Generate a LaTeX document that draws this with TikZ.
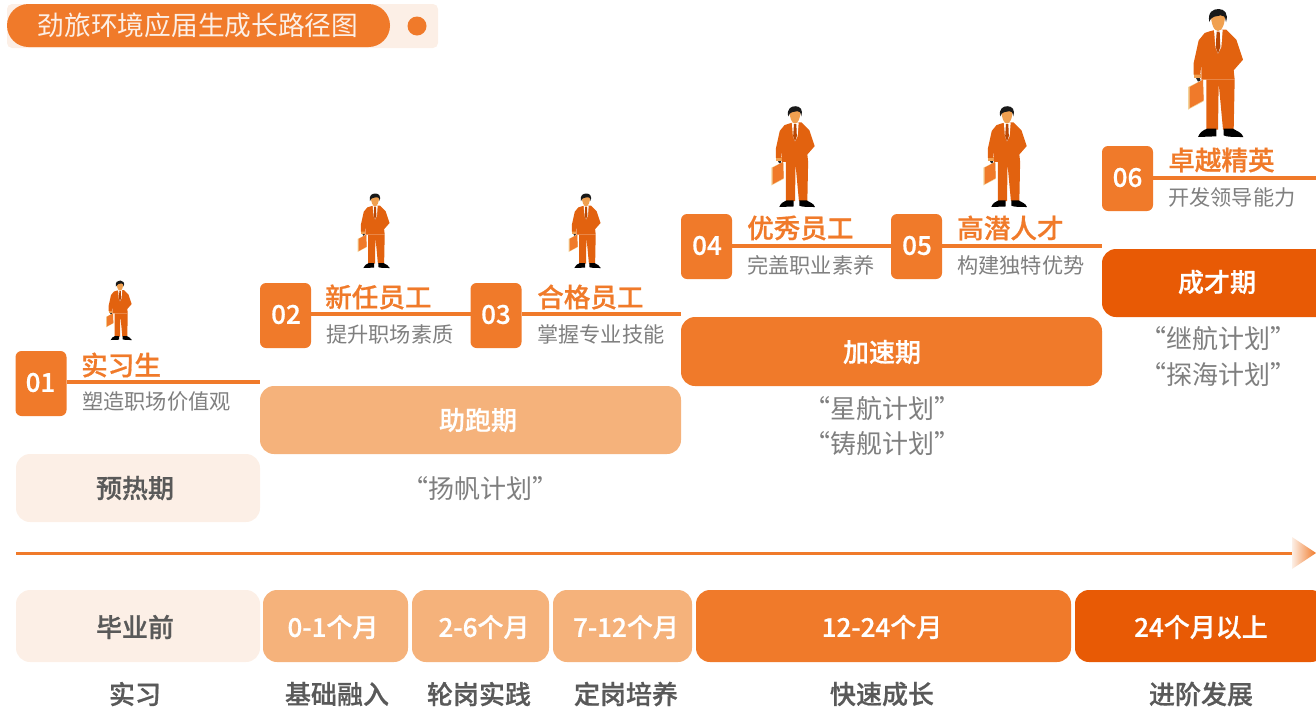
\documentclass[tikz,border=0pt]{standalone}
\usepackage{fontspec}
\setmainfont{Noto Sans CJK SC}
\newfontfamily\medf{Noto Sans CJK SC Medium}[FakeBold=0.7]
\usetikzlibrary{calc}
\definecolor{oMain}{HTML}{F07A2A}
\definecolor{oDeep}{HTML}{E85A05}
\definecolor{oSoft}{HTML}{F5B27B}
\definecolor{oPale}{HTML}{FCEFE6}
\definecolor{txtDark}{HTML}{595959}
\definecolor{txtGray}{HTML}{7F7F7F}
\definecolor{suit}{HTML}{E2620F}
\definecolor{skin}{HTML}{F0A050}
\definecolor{caseedge}{HTML}{F3D29A}
\tikzset{
  box/.style={rounded corners=#1,inner sep=0pt,outer sep=0pt},
  badge/.style={box=6pt,fill=oMain,minimum width=51pt,minimum height=65pt},
  badgetxt/.style={inner sep=0pt,text=white,font=\medf\fontsize{26}{26}\selectfont},
  phase/.style={box=14pt,minimum height=68pt},
  span/.style={box=14pt,minimum height=72pt},
  lbl/.style={inner sep=0pt,font=\medf\fontsize{26}{26}\selectfont},
  lblm/.style={inner sep=0pt,font=\medf\fontsize{26}{26}\selectfont},
  ttl/.style={anchor=west,inner sep=0pt,text=oMain,font=\medf\fontsize{26.6}{27}\selectfont},
  sub/.style={anchor=west,inner sep=0pt,text=txtGray,font=\fontsize{21.2}{22}\selectfont},
  quotetxt/.style={inner sep=0pt,text=txtGray,font=\fontsize{26}{27}\selectfont},
  captxt/.style={inner sep=0pt,text=txtDark,font=\medf\fontsize{26}{27}\selectfont},
  link/.style={draw=oMain,line width=4pt}
}
\newcommand{\figman}[3]{%
\begin{scope}[shift={(#1,#2)},x=#3pt,y=#3pt]
 % local coordinates: origin between the feet, y upward
 \fill[black!85] (-72,188) -- (-60,188) -- (-52,170) -- (-60,166) -- cycle;
 \fill[caseedge] (-90,150) -- (-45,172) -- (-43,107) -- (-90,82) -- cycle;
 \fill[oMain] (-85,150) -- (-45,172) -- (-43,110) -- (-85,87) -- cycle;
 \fill[skin] (-73,190) -- (-50,190) -- (-50,177) -- (-73,177) -- cycle;
 \fill[suit] (-35,172) -- (-35,22) -- (0,22) -- (2,162) -- (15,22) -- (47,22) -- (50,172) -- cycle;
 \fill[suit] (-22,318) -- (-5,322) -- (25,322) -- (35,312) -- (55,292) -- (75,232) -- (47,200) -- (50,172) -- (-50,172) -- (-50,222) -- (-53,187) -- (-73,187) -- (-73,222) -- (-58,290) -- (-40,312) -- cycle;
 \fill[white] (-12,322) -- (14,322) -- (10,270) -- (0,250) -- (-8,270) -- cycle;
 \fill[oDeep!80!black] (-4,316) -- (5,316) -- (7,270) -- (0,250) -- (-7,270) -- cycle;
 \fill[skin] (-21,370) .. controls (-22,340) and (-12,318) .. (0,318) .. controls (12,318) and (22,340) .. (21,370) -- cycle;
 \fill[black!90] (-26,345) .. controls (-32,375) and (-15,384) .. (2,384) .. controls (20,384) and (32,370) .. (24,345) .. controls (22,362) and (16,366) .. (8,365) .. controls (-4,361) and (-20,365) .. (-26,345) -- cycle;
 \fill[black] (-60,0) .. controls (-55,14) and (-45,20) .. (-33,25) -- (-5,25) -- (-5,2) -- cycle;
 \fill[black] (17,25) -- (45,25) .. controls (55,18) and (72,14) .. (76,0) .. controls (50,0) and (25,0) .. (17,5) -- cycle;
\end{scope}}
\begin{document}
\begin{tikzpicture}[x=1pt,y=-1pt]
\useasboundingbox (0,0) rectangle (1316,713);
% title
\node[box=5pt,fill=oPale,minimum width=431pt,minimum height=44pt,anchor=north west] (titleback) at (7,4) {};
\node[box=21.5pt,fill=oMain,minimum width=383pt,minimum height=43pt,anchor=north west] (titlepill) at (7,4) {};
\node[inner sep=0pt,text=oPale,font=\fontsize{26.7}{27}\selectfont] (titletext) at (198,25) {劲旅环境应届生成长路径图};
\node[circle,fill=oMain,minimum size=19pt,inner sep=0pt] (titledot) at (417,26) {};
% figures
\figman{1218}{137}{0.3333}
\figman{795}{207}{0.2625}
\figman{1007}{207}{0.2625}
\figman{375}{268}{0.194}
\figman{586}{268}{0.194}
\figman{120}{340}{0.155}
% steps
\coordinate (e1) at (260,382);
\coordinate (e2) at (681,314);
\coordinate (e3) at (1102,246);
\coordinate (e4) at (1316,178);
\node[badge] (b1) at (41,383.5) {};
\node[badge] (b2) at (285.5,315.5) {};
\node[badge] (b3) at (496,315.5) {};
\node[badge] (b4) at (706.5,246.5) {};
\node[badge] (b5) at (916.5,246.5) {};
\node[badge] (b6) at (1127.5,178.5) {};
\node[badgetxt] (bt1) at (40.5,382.5) {01};
\node[badgetxt] (bt2) at (286,314.5) {02};
\node[badgetxt] (bt3) at (496,314.5) {03};
\node[badgetxt] (bt4) at (707,245.5) {04};
\node[badgetxt] (bt5) at (917,245.5) {05};
\node[badgetxt] (bt6) at (1127.5,177.5) {06};
\draw[link] (b1.east|-e1) -- (e1);
\draw[link] (b2.east|-e2) -- (b3.west|-e2);
\draw[link] (b3.east|-e2) -- (e2);
\draw[link] (b4.east|-e3) -- (b5.west|-e3);
\draw[link] (b5.east|-e3) -- (e3);
\draw[link] (b6.east|-e4) -- (e4);
\node[ttl] (t1) at (81,365) {实习生};
\node[ttl] (t2) at (325,297) {新任员工};
\node[ttl] (t3) at (537,297) {合格员工};
\node[ttl] (t4) at (747,228) {优秀员工};
\node[ttl] (t5) at (957,228) {高潜人才};
\node[ttl] (t6) at (1168,160) {卓越精英};
\node[sub] (s1) at (82,401) {塑造职场价值观};
\node[sub] (s2) at (326,334) {提升职场素质};
\node[sub] (s3) at (537,334) {掌握专业技能};
\node[sub] (s4) at (747,265) {完盖职业素养};
\node[sub] (s5) at (957,265) {构建独特优势};
\node[sub] (s6) at (1168,197) {开发领导能力};
% phases
\node[phase,fill=oPale,minimum width=244pt] (p1) at (138,488) {};
\node[phase,fill=oSoft,minimum width=421pt] (p2) at (470.5,420) {};
\node[phase,fill=oMain,minimum width=421pt,minimum height=69pt] (p3) at (891.5,351.5) {};
\node[phase,fill=oDeep,minimum width=234pt] (p4) at (1219,283) {};
\node[lbl,text=txtDark] (pt1) at (135,488) {预热期};
\node[lbl,text=white] (pt2) at (478,420) {助跑期};
\node[lbl,text=white] (pt3) at (882,352) {加速期};
\node[lbl,text=white] (pt4) at (1217,282) {成才期};
% quotes
\node[quotetxt] (q1) at (480,489) {“扬帆计划”};
\node[quotetxt] (q2) at (882,409) {“星航计划”};
\node[quotetxt] (q3) at (882,444) {“铸舰计划”};
\node[quotetxt] (q4) at (1218,339) {“继航计划”};
\node[quotetxt] (q5) at (1218,375) {“探海计划”};
% timeline
\coordinate (ax0) at (16,553);
\coordinate (ax1) at (1292,553);
\draw[draw=oMain,line width=3pt] (ax0) -- (ax1);
\shade[left color=oPale,right color=oMain] (1292,537) -- (1316,553) -- (1292,569) -- cycle;
% time spans
\node[span,fill=oPale,minimum width=244pt] (d1) at (138,626) {};
\node[span,fill=oSoft,minimum width=145pt] (d2) at (335.5,626) {};
\node[span,fill=oSoft,minimum width=137pt] (d3) at (480.5,626) {};
\node[span,fill=oSoft,minimum width=139pt] (d4) at (622.5,626) {};
\node[span,fill=oMain,minimum width=375pt] (d5) at (883.5,626) {};
\node[span,fill=oDeep,minimum width=250pt] (d6) at (1200,626) {};
\node[lbl,text=txtDark] (dt1) at (135,627) {毕业前};
\node[lblm,text=white] (dt2) at (333,627) {0-1个月};
\node[lblm,text=white] (dt3) at (484,627) {2-6个月};
\node[lblm,text=white] (dt4) at (626,627) {7-12个月};
\node[lblm,text=white] (dt5) at (882,627) {12-24个月};
\node[lblm,text=white] (dt6) at (1201,627) {24个月以上};
% captions
\node[captxt] (c1) at (135,694) {实习};
\node[captxt] (c2) at (337,694) {基础融入};
\node[captxt] (c3) at (479,694) {轮岗实践};
\node[captxt] (c4) at (626,694) {定岗培养};
\node[captxt] (c5) at (882,694) {快速成长};
\node[captxt] (c6) at (1201,694) {进阶发展};
\end{tikzpicture}
\end{document}
